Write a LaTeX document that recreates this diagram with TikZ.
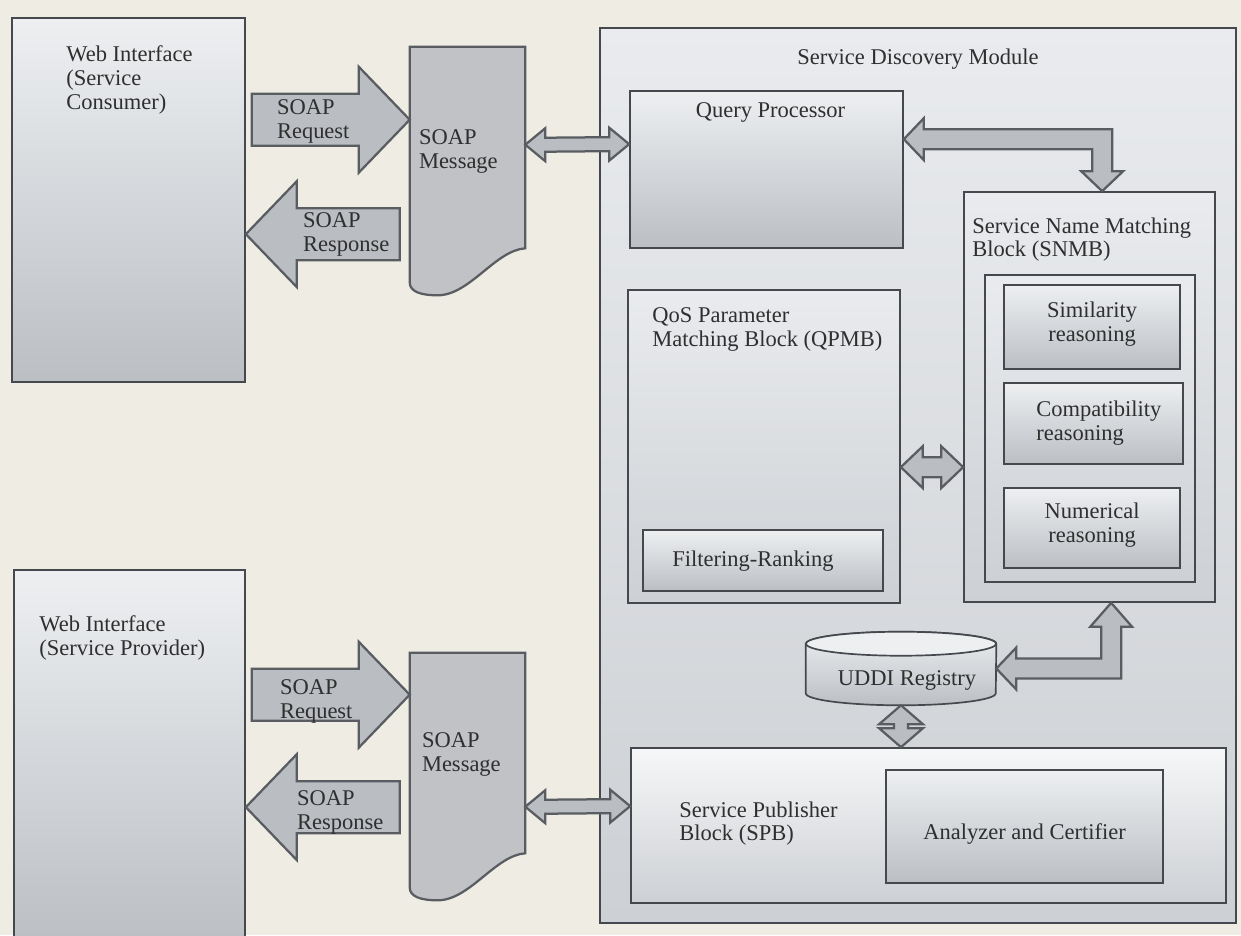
\documentclass[tikz,border=0pt]{standalone}
\usepackage{fontspec}
\setmainfont{Liberation Serif}
\usetikzlibrary{fit,calc}

\definecolor{paper}{HTML}{EEECE3}
\definecolor{edge}{HTML}{45484C}
\definecolor{ink}{HTML}{2F2F2F}
\definecolor{shadetop}{HTML}{EDEFF1}
\definecolor{shadebot}{HTML}{BBBFC4}
\definecolor{paletop}{HTML}{E9EBEE}
\definecolor{palebot}{HTML}{CDD0D4}
\definecolor{arrowfill}{HTML}{BABDC2}
\definecolor{arrowedge}{HTML}{595C61}
\definecolor{msgfill}{HTML}{C0C2C6}

\tikzset
    {   block/.style =
        {   draw = edge
        ,   line width = 1.2pt
        ,   inner sep = 0pt
        ,   top color = shadetop
        ,   bottom color = shadebot
        }
    ,   paleblock/.style =
        {   block
        ,   top color = paletop
        ,   bottom color = palebot
        }
    ,   fatarrow/.style =
        {   draw = arrowedge
        ,   line width = 1.6pt
        ,   fill = arrowfill
        ,   line join = miter
        }
    ,   lbl/.style =
        {   inner sep = 0pt
        ,   anchor = north west
        ,   align = left
        }
    ,   midlbl/.style =
        {   inner sep = 0pt
        ,   align = center
        }
    }

% block arrow with one head: direction (1 right, -1 left), tip, length, body half, head half, head length
\newcommand\fatsingle[6]
    {   \draw[fatarrow] (#2)
            -- ++({0-(#1)*(#6)},{0-(#5)})
            -- ++(0,{#5-#4})
            -- ++({0-(#1)*(#3-#6)},0)
            -- ++(0,{2*#4})
            -- ++({(#1)*(#3-#6)},0)
            -- ++(0,{#5-#4})
            -- cycle;
    }

% horizontal block arrow with two heads: left tip, right tip, body half, head half, head length
\newcommand\fatdouble[5]
    {   \draw[fatarrow] (#1)
            -- ++(#5,-#4) -- ++(0,{#4-#3})
            -- ($(#2)+(-#5,-#3)$) -- ++(0,{#3-#4})
            -- (#2)
            -- ++(-#5,#4) -- ++(0,{#3-#4})
            -- ($(#1)+(#5,#3)$) -- ++(0,{#4-#3})
            -- cycle;
    }

% vertical block arrow with two heads: top tip, bottom tip, body half, head half, head length
\newcommand\fatvdouble[5]
    {   \draw[fatarrow] (#1)
            -- ++(-#4,#5) -- ++({#4-#3},0)
            -- ($(#2)+(-#3,-#5)$) -- ++({#3-#4},0)
            -- (#2)
            -- ++(#4,-#5) -- ++({#3-#4},0)
            -- ($(#1)+(#3,#5)$) -- ++({#4-#3},0)
            -- cycle;
    }

% SOAP message sheet with a wavy bottom
\newcommand\msgshape[1]
    {   \draw[fatarrow, fill=msgfill] (#1.north west) -- (#1.north east)
            -- ($(#1.south east)+(0,-47)$)
            .. controls ($(#1.south east)+(-30,-45)$) and ($(#1.south west)+(60,0)$)
            .. ($(#1.south west)+(28,0)$)
            .. controls ($(#1.south west)+(10,0)$) and ($(#1.south west)+(0,-4)$)
            .. ($(#1.south west)+(0,-13)$)
            -- cycle;
    }

\begin{document}
\begin{tikzpicture}
    [   x = 0.025cm
    ,   y = -0.025cm
    ,   font = \fontsize{16}{17}\selectfont
    ,   text = ink
    ]
    \clip (0,0) rectangle (1241,935);
    \fill[paper] (0,0) rectangle (1241,935);

    % consumer side
    \node[block, fit={(12,18) (245,382)}] (consumer) {};
    \node[inner sep=0pt, fit={(410,47) (525,295)}] (msgTop) {};
    \msgshape{msgTop}

    % provider side
    \node[block, fit={(14,570) (245,945)}] (provider) {};
    \node[inner sep=0pt, fit={(410,653) (525,900)}] (msgBot) {};
    \msgshape{msgBot}

    % service discovery module
    \node[paleblock, fit={(600,28) (1236,923)}] (module) {};
    \node[block, fit={(630,91) (903,248)}] (query) {};
    \node[paleblock, fit={(628,290) (900,603)}] (qpmb) {};
    \node[block, fit={(643,530) (883,591)}] (filter) {};
    \node[paleblock, fit={(964,192) (1215,602)}] (snmb) {};
    \node[paleblock, fit={(985,275) (1195,582)}] (snmbInner) {};
    \node[block, fit={(1004,285) (1180,369)}] (similar) {};
    \node[block, fit={(1004,383) (1183,464)}] (compat) {};
    \node[block, fit={(1004,488) (1180,568)}] (numeric) {};
    \node[paleblock, top color=white!60!paletop, fit={(631,748) (1226,903)}] (spb) {};
    \node[block, fit={(886,770) (1163,883)}] (certify) {};

    % registry cylinder
    \node[inner sep=0pt, fit={(806,632) (996,705)}] (uddi) {};
    \draw[block] ($(uddi.north west)+(0,12)$) -- ($(uddi.south west)+(0,-12)$)
        arc[start angle=180, end angle=360, x radius=2.375cm, y radius=0.3cm]
        -- ($(uddi.north east)+(0,12)$)
        arc[start angle=0, end angle=180, x radius=2.375cm, y radius=0.3cm] -- cycle;
    \draw[edge, line width=1.2pt, fill=shadetop] ($(uddi.north)+(0,12)$) ellipse[x radius=2.375cm, y radius=0.3cm];
    \node (uddiText) at ($(uddi.center)+(6,12)$) {UDDI Registry};

    % tips of the block arrows
    \coordinate (reqTopTip) at ($(msgTop.north west)+(0,73)$);
    \coordinate (respTopTip) at ($(consumer.north east)+(0,217)$);
    \coordinate (reqBotTip) at ($(msgBot.north west)+(0,42)$);
    \coordinate (respBotTip) at ($(provider.north east)+(0,238)$);
    \coordinate (msgTopRight) at ($(msgTop.north east)+(0,98)$);
    \coordinate (queryLeft) at ($(query.north west)+(0,54)$);
    \coordinate (msgBotRight) at ($(msgBot.north east)+(0,154)$);
    \coordinate (spbLeft) at ($(spb.north west)+(0,59)$);
    \coordinate (qpmbRight) at ($(qpmb.north east)+(0,178)$);
    \coordinate (snmbLeft) at ($(snmb.north west)+(0,276)$);
    \coordinate (queryRight) at ($(query.north east)+(0,49)$);
    \coordinate (snmbTop) at ($(snmb.north west)+(139,0)$);
    \coordinate (snmbBottom) at ($(snmb.south west)+(148,0)$);
    \coordinate (spbTop) at (uddi.south |- spb.north);

    \fatsingle{1}{reqTopTip}{158}{26}{53}{51}
    \fatsingle{-1}{respTopTip}{154}{26}{53}{51}
    \fatsingle{1}{reqBotTip}{158}{26}{53}{51}
    \fatsingle{-1}{respBotTip}{154}{26}{53}{51}
    \fatdouble{msgTopRight}{queryLeft}{7}{16.5}{20}
    \fatdouble{msgBotRight}{spbLeft}{7}{16.5}{20}
    \fatdouble{qpmbRight}{snmbLeft}{10}{21}{22}
    \fatvdouble{uddi.south}{spbTop}{7}{22}{19}

    % elbow arrows
    \draw[fatarrow] (queryRight) -- ++(20,-21) -- ++(0,11)
        -- ($(snmbTop |- queryRight)+(10,-10)$) -- ($(snmbTop)+(10,-20)$)
        -- ++(11,0) -- (snmbTop) -- ++(-21,-20) -- ++(11,0)
        -- ($(snmbTop |- queryRight)+(-10,10)$) -- ($(queryRight)+(20,10)$)
        -- ++(0,11) -- cycle;
    \draw[fatarrow] (uddi.east) -- ++(20,-21) -- ++(0,11)
        -- ($(snmbBottom |- uddi.east)+(-10,-10)$) -- ($(snmbBottom)+(-10,24)$)
        -- ++(-11,0) -- (snmbBottom) -- ++(21,24) -- ++(-11,0)
        -- ($(snmbBottom |- uddi.east)+(10,10)$) -- ($(uddi.east)+(20,10)$)
        -- ++(0,11) -- cycle;

    % texts
    \node[lbl] (consumerText) at ($(consumer.north west)+(55,28)$) {Web Interface\\(Service\\Consumer)};
    \node[lbl] (reqTopText) at ($(msgTop.north west)+(-133,53)$) {SOAP\\Request};
    \node[lbl] (respTopText) at ($(consumer.north east)+(57,195)$) {SOAP\\Response};
    \node[lbl] (msgTopText) at ($(msgTop.north west)+(9,83)$) {SOAP\\Message};
    \node[lbl] (providerText) at ($(provider.north west)+(26,46)$) {Web Interface\\(Service Provider)};
    \node[lbl] (reqBotText) at ($(msgBot.north west)+(-130,27)$) {SOAP\\Request};
    \node[lbl] (respBotText) at ($(provider.north east)+(51,221)$) {SOAP\\Response};
    \node[lbl] (msgBotText) at ($(msgBot.north west)+(12,80)$) {SOAP\\Message};
    \node[inner sep=0pt, anchor=north] (moduleText) at ($(module.north)+(0,21)$) {Service Discovery Module};
    \node[inner sep=0pt, anchor=north] (queryText) at ($(query.north)+(4,12)$) {Query Processor};
    \node[lbl] (qpmbText) at ($(qpmb.north west)+(25,18)$) {QoS Parameter\\Matching Block (QPMB)};
    \node[lbl] (snmbText) at ($(snmb.north west)+(9,26)$) {Service Name Matching\\Block (SNMB)};
    \node[lbl] (spbText) at ($(spb.north west)+(49,54)$) {Service Publisher\\Block (SPB)};
    \node[midlbl] (filterText) at ($(filter.center)+(-10,1)$) {Filtering-Ranking};
    \node[midlbl] (similarText) at ($(similar.center)+(0,-3)$) {Similarity\\reasoning};
    \node[lbl, anchor=west] (compatText) at ($(compat.west)+(33,0)$) {Compatibility\\reasoning};
    \node[midlbl] (numericText) at ($(numeric.center)+(0,-3)$) {Numerical\\reasoning};
    \node[midlbl] (certifyText) at ($(certify.center)+(0,7)$) {Analyzer and Certifier};
\end{tikzpicture}
\end{document}
